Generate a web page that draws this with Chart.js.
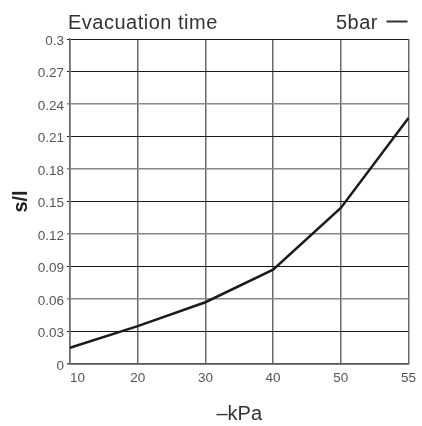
<!DOCTYPE html>
<html>
<head>
<meta charset="utf-8">
<script src="https://cdn.jsdelivr.net/npm/chart.js@4"></script>
<style>
html,body{margin:0;padding:0;background:#fff;}
#wrap{position:relative;width:422px;height:426px;}
</style>
</head>
<body>
<div id="wrap"><canvas id="c" width="422" height="426"></canvas></div>
<script>
const chartTitle = 'Evacuation time';
const seriesName = '5bar';
const categories = ['10', '20', '30', '40', '50', '55'];
const evacuationTime = [0.015, 0.035, 0.057, 0.087, 0.144, 0.227];
const yTickValues = [0, 0.03, 0.06, 0.09, 0.12, 0.15, 0.18, 0.21, 0.24, 0.27, 0.3];
const yTickLabels = ['0', '0.03', '0.06', '0.09', '0.12', '0.15', '0.18', '0.21', '0.24', '0.27', '0.3'];
const xAxisTitle = '\u2013kPa';
const yAxisTitle = 's/l';

const headerPlugin = {
  id: 'header',
  afterDraw(chart) {
    const ctx = chart.ctx;
    ctx.save();
    ctx.font = '20px "Liberation Sans", Arial, sans-serif';
    try { ctx.letterSpacing = '0.5px'; } catch (e) {}
    ctx.fillStyle = '#333';
    ctx.textBaseline = 'alphabetic';
    ctx.textAlign = 'left';
    ctx.fillText(chartTitle, 68, 29);
    ctx.fillText(seriesName, 336, 29);
    ctx.strokeStyle = '#333';
    ctx.lineWidth = 2;
    ctx.beginPath();
    ctx.moveTo(386.5, 21.5);
    ctx.lineTo(407.5, 21.5);
    ctx.stroke();
    ctx.restore();
  }
};

const tickFont = { family: '"Liberation Sans", Arial, sans-serif', size: 13.5 };

new Chart(document.getElementById('c'), {
  type: 'line',
  data: {
    labels: categories,
    datasets: [{
      label: seriesName,
      data: evacuationTime,
      borderColor: '#1b1b1b',
      borderWidth: 2.5,
      pointRadius: 0,
      tension: 0,
      fill: false
    }]
  },
  options: {
    responsive: false,
    animation: false,
    devicePixelRatio: 1,
    layout: { padding: { top: 39, right: 13, bottom: 0, left: 0 } },
    plugins: { legend: { display: false }, title: { display: false }, tooltip: { enabled: false } },
    scales: {
      x: {
        type: 'category',
        offset: false,
        afterFit(scale) { scale.height = 62; },
        grid: { color: '#6a6a6a', lineWidth: 1.5, drawTicks: false, offset: false },
        border: { display: true, color: '#555', width: 1.5 },
        ticks: {
          padding: 6,
          color: '#555',
          font: tickFont,
          maxRotation: 0,
          autoSkip: false,
          callback: (v, i) => (i === 0 ? '    ' : '') + categories[i]
        },
        title: {
          display: true,
          text: xAxisTitle,
          color: '#333',
          font: { family: '"Liberation Sans", Arial, sans-serif', size: 20 },
          padding: { top: 0, bottom: 0 }
        }
      },
      y: {
        min: 0,
        max: 0.3,
        afterFit(scale) { scale.width = 70; },
        afterBuildTicks(scale) { scale.ticks = yTickValues.map(v => ({ value: v })); },
        grid: {
          color: ctx => {
            const i = ctx.index;
            if (i === 0) return '#555';
            return (i % 2 === 1 || i === yTickValues.length - 1) ? '#1a1a1a' : '#888';
          },
          lineWidth: ctx => (ctx.index % 2 === 1 || ctx.index === yTickValues.length - 1) ? 1 : 1.5,
          drawTicks: true,
          tickLength: 3
        },
        border: { display: true, color: '#6a6a6a', width: 1.5 },
        ticks: {
          padding: 3,
          labelOffset: 2,
          color: '#555',
          font: tickFont,
          callback: (v, i) => yTickLabels[i]
        },
        title: {
          display: true,
          text: yAxisTitle,
          color: '#222',
          font: { family: '"Liberation Sans", Arial, sans-serif', size: 20, weight: 'bold' },
          padding: { top: 9, bottom: 0 }
        }
      }
    }
  },
  plugins: [headerPlugin]
});
</script>
</body>
</html>
